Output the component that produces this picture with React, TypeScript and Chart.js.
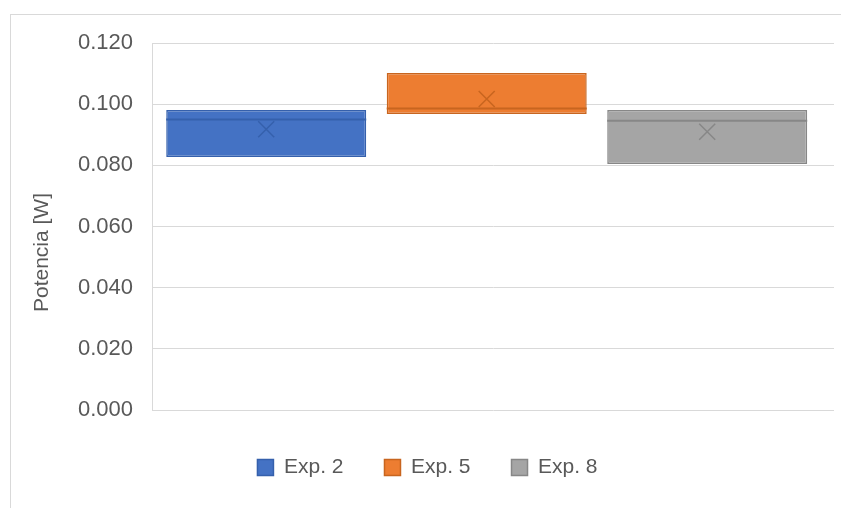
import React, { useEffect, useRef } from "react";
import { Chart, registerables } from "chart.js";

Chart.register(...registerables);

// ---- Data ----
const categories = ["Exp. 2", "Exp. 5", "Exp. 8"];
const q1Values = [0.0827, 0.0968, 0.0804];
const q3Values = [0.0981, 0.1102, 0.0981];
const medianValues = [0.095, 0.0986, 0.0946];
const meanValues = [0.0918, 0.1017, 0.091];
const yTickValues = [0, 0.02, 0.04, 0.06, 0.08, 0.1, 0.12];
const yTitle = "Potencia [W]";

// ---- Styles ----
const fillColors = ["#4472C4", "#ED7D31", "#A5A5A5"];
const lineColors = ["#3560AC", "#C8651F", "#878787"];
const textColor = "#595959";
const gridColor = "#D9D9D9";
const fontFamily = "'Liberation Sans', Arial, sans-serif";

const boxExtras = {
  id: "boxExtras",
  afterDatasetsDraw(chart: any) {
    const ctx = chart.ctx;
    const yScale = chart.scales.y;
    chart.data.datasets.forEach((_ds: any, i: number) => {
      const meta = chart.getDatasetMeta(i);
      const bar = meta.data[0];
      if (!bar) return;
      const { x, width } = bar.getProps(["x", "width"], true);
      const ym = yScale.getPixelForValue(medianValues[i]);
      ctx.save();
      ctx.strokeStyle = lineColors[i];
      ctx.lineWidth = 2;
      ctx.beginPath();
      ctx.moveTo(x - width / 2, ym);
      ctx.lineTo(x + width / 2, ym);
      ctx.stroke();
      const yMean = yScale.getPixelForValue(meanValues[i]);
      const s = 8;
      ctx.lineWidth = 1.5;
      ctx.beginPath();
      ctx.moveTo(x - s, yMean - s);
      ctx.lineTo(x + s, yMean + s);
      ctx.moveTo(x + s, yMean - s);
      ctx.lineTo(x - s, yMean + s);
      ctx.stroke();
      ctx.restore();
    });
  },
};

// Y-axis title, drawn slightly below the axis centre as in the reference
const yTitlePlugin = {
  id: "yTitlePlugin",
  afterDraw(chart: any) {
    const ctx = chart.ctx;
    const yScale = chart.scales.y;
    const cy = (yScale.top + yScale.bottom) / 2 + 26;
    ctx.save();
    ctx.translate(42, cy);
    ctx.rotate(-Math.PI / 2);
    ctx.fillStyle = textColor;
    ctx.font = `21px ${fontFamily}`;
    ctx.textAlign = "center";
    ctx.textBaseline = "middle";
    ctx.fillText(yTitle, 0, 0);
    ctx.restore();
  },
};

export default function App() {
  const canvasRef = useRef<HTMLCanvasElement | null>(null);

  useEffect(() => {
    if (!canvasRef.current) return;
    const datasets = categories.map((name, i) => ({
      label: name,
      data: [{ x: i + 1, y: [q1Values[i], q3Values[i]] }],
      backgroundColor: fillColors[i],
      borderColor: lineColors[i],
      borderWidth: 1.5,
      borderSkipped: false,
      grouped: false,
      barPercentage: 0.907,
      categoryPercentage: 1,
    }));

    const chart = new Chart(canvasRef.current, {
      type: "bar",
      data: { datasets: datasets as any },
      plugins: [boxExtras, yTitlePlugin],
      options: {
        responsive: false,
        animation: false,
        devicePixelRatio: 1,
        layout: { padding: { left: 21, right: 7, top: 43, bottom: 20 } },
        plugins: {
          tooltip: { enabled: false },
          legend: {
            display: true,
            position: "bottom",
            labels: {
              boxWidth: 16,
              boxHeight: 16,
              padding: 41,
              color: textColor,
              font: { family: fontFamily, size: 21 },
            },
          },
        },
        scales: {
          x: {
            type: "linear",
            offset: false,
            min: 0.482,
            max: 3.575,
            display: true,
            grid: { display: false, drawTicks: false },
            border: { display: false },
            ticks: { display: false },
            afterBuildTicks: (axis: any) => {
              axis.ticks = categories.map((_c, i) => ({ value: i + 1 }));
            },
            afterFit: (axis: any) => {
              axis.height = 6;
            },
          },
          y: {
            min: 0,
            max: 0.12,
            afterBuildTicks: (axis: any) => {
              axis.ticks = yTickValues.map((v) => ({ value: v }));
            },
            afterFit: (axis: any) => {
              axis.width = 131;
            },
            grid: { color: gridColor, lineWidth: 1, drawTicks: false },
            border: { display: true, color: gridColor, width: 1 },
            ticks: {
              padding: 19,
              color: textColor,
              font: { family: fontFamily, size: 22 },
              callback: (v: any) => Number(v).toFixed(3),
            },
            title: { display: false },
          },
        },
      },
    });
    return () => chart.destroy();
  }, []);

  return (
    <div
      style={{
        position: "fixed",
        left: 0,
        top: 0,
        width: 841,
        height: 508,
        background: "#ffffff",
        overflow: "hidden",
      }}
    >
      <div
        style={{
          position: "absolute",
          left: 10,
          top: 14,
          width: 831,
          height: 494,
          borderLeft: `1px solid ${gridColor}`,
          borderTop: `1px solid ${gridColor}`,
          boxSizing: "border-box",
        }}
      />
      <canvas
        ref={canvasRef}
        width={841}
        height={508}
        style={{ position: "absolute", left: 0, top: 0, width: 841, height: 508 }}
      />
    </div>
  );
}
